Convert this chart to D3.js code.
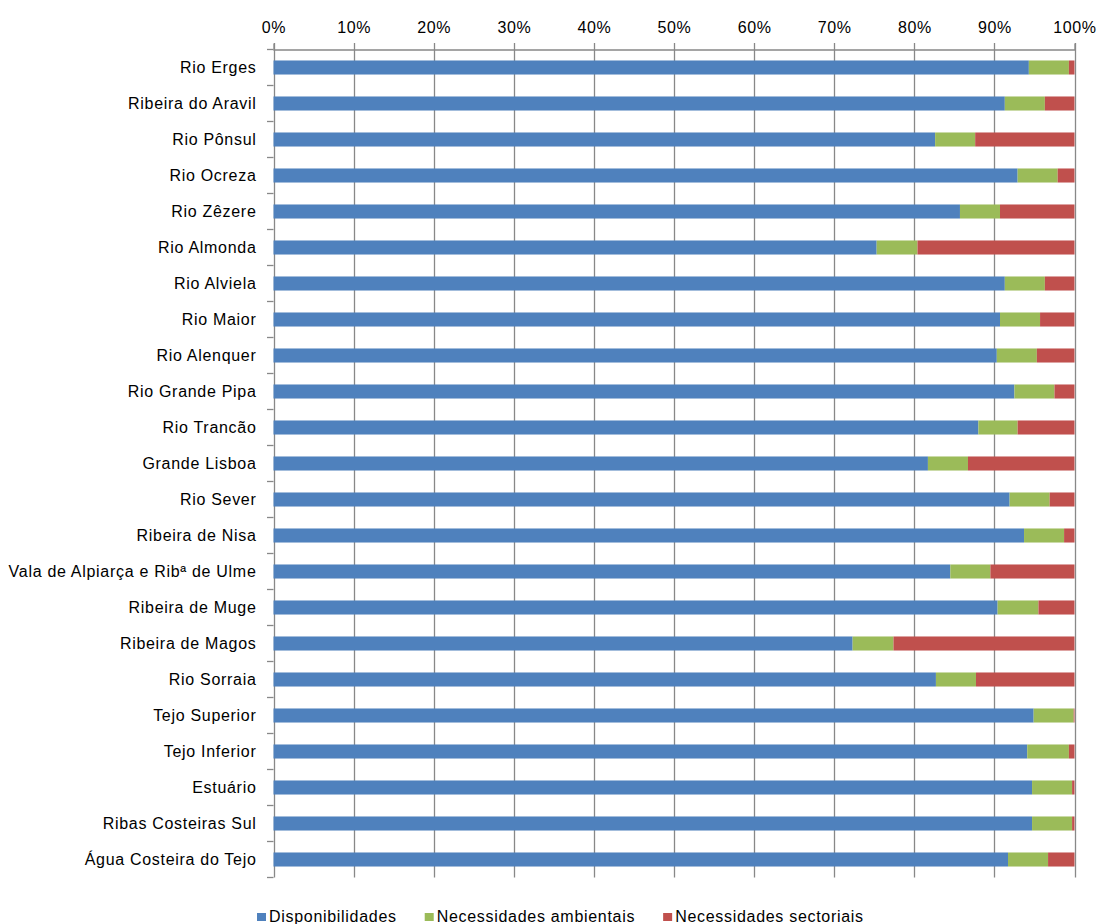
<!DOCTYPE html>
<html>
<head>
<meta charset="utf-8">
<title>Disponibilidades e necessidades</title>
<style>
  body { margin: 0; background: #fff; }
  text { font-family: "Liberation Sans", Arial, sans-serif; fill: #000; }
</style>
</head>
<body>
<script src="https://cdn.jsdelivr.net/npm/d3@7"></script>
<script>
// categorias (de cima para baixo)
const categories = [
  "Rio Erges", "Ribeira do Aravil", "Rio Pônsul", "Rio Ocreza", "Rio Zêzere",
  "Rio Almonda", "Rio Alviela", "Rio Maior", "Rio Alenquer", "Rio Grande Pipa",
  "Rio Trancão", "Grande Lisboa", "Rio Sever", "Ribeira de Nisa",
  "Vala de Alpiarça e Ribª de Ulme", "Ribeira de Muge", "Ribeira de Magos",
  "Rio Sorraia", "Tejo Superior", "Tejo Inferior", "Estuário",
  "Ribas Costeiras Sul", "Água Costeira do Tejo"
];
// percentagens
const disponibilidades = [
  94.3, 91.3, 82.6, 92.9, 85.7, 75.3, 91.3, 90.7, 90.3, 92.5, 88.0, 81.7,
  91.9, 93.7, 84.5, 90.4, 72.3, 82.7, 94.9, 94.1, 94.7, 94.7, 91.7
];
const necAmbientais = [
  5.0, 5.0, 5.0, 5.0, 5.0, 5.1, 5.0, 5.0, 5.0, 5.0, 4.9, 5.0,
  5.0, 5.0, 5.0, 5.1, 5.1, 5.0, 5.0, 5.2, 5.0, 5.0, 5.0
];
const necSectoriais = [
  0.7, 3.7, 12.4, 2.1, 9.3, 19.6, 3.7, 4.3, 4.7, 2.5, 7.1, 13.3,
  3.1, 1.3, 10.5, 4.5, 22.6, 12.3, 0.1, 0.7, 0.3, 0.3, 3.3
];
const seriesNames = ["Disponibilidades", "Necessidades ambientais", "Necessidades sectoriais"];
const colors = ["#4F81BD", "#9BBB59", "#C0504D"];
const tickValues = [0, 0.1, 0.2, 0.3, 0.4, 0.5, 0.6, 0.7, 0.8, 0.9, 1];

const width = 1098, height = 924;
const margin = { top: 49.5, left: 273.5, right: 23.5, bottom: 46.5 };

const rows = categories.map((c, i) => ({
  name: c,
  "Disponibilidades": disponibilidades[i],
  "Necessidades ambientais": necAmbientais[i],
  "Necessidades sectoriais": necSectoriais[i]
}));

// normalizar a 100%
const stack = d3.stack().keys(seriesNames).offset(d3.stackOffsetExpand);
const series = stack(rows);

const x = d3.scaleLinear().domain([0, 1]).range([margin.left, width - margin.right]);
const y = d3.scaleBand().domain(categories)
  .range([margin.top, height - margin.bottom])
  .paddingInner(0.61).paddingOuter(0.305);
const yEdges = d3.scaleLinear().domain([0, categories.length])
  .range([margin.top, height - margin.bottom]);

const svg = d3.select("body").append("svg")
  .attr("width", width)
  .attr("height", height);

// grelha vertical
svg.append("g")
  .attr("stroke", "#888")
  .attr("stroke-width", 1.3)
  .selectAll("line")
  .data(tickValues)
  .join("line")
  .attr("x1", d => Math.round(x(d)) + 0.5)
  .attr("x2", d => Math.round(x(d)) + 0.5)
  .attr("y1", margin.top - 6.5)
  .attr("y2", height - margin.bottom);

// eixo superior
const xAxis = svg.append("g")
  .attr("transform", `translate(0,${margin.top})`)
  .call(d3.axisTop(x).tickValues(tickValues).tickFormat(d3.format(".0%")).tickSize(6).tickPadding(11));
xAxis.select(".domain").attr("stroke", "#888").attr("stroke-width", 1.3);
xAxis.selectAll(".tick line").remove();
xAxis.selectAll("text")
  .attr("font-size", 16)
  .attr("letter-spacing", "0.6px")
  .attr("font-family", "Liberation Sans, Arial, sans-serif")
  .attr("fill", "#000");

// eixo das categorias: marcas entre categorias
svg.append("g")
  .attr("stroke", "#888")
  .attr("stroke-width", 1.3)
  .selectAll("line")
  .data(d3.range(categories.length + 1))
  .join("line")
  .attr("x1", margin.left - 6.5)
  .attr("x2", margin.left)
  .attr("y1", d => yEdges(d))
  .attr("y2", d => yEdges(d));

svg.append("g")
  .selectAll("text")
  .data(categories)
  .join("text")
  .attr("x", margin.left - 17)
  .attr("y", d => y(d) + y.bandwidth() / 2)
  .attr("dy", "0.35em")
  .attr("text-anchor", "end")
  .attr("font-size", 16)
  .attr("letter-spacing", "0.7px")
  .text(d => d);

// barras
svg.append("g")
  .selectAll("g")
  .data(series)
  .join("g")
  .attr("fill", (d, i) => colors[i])
  .selectAll("rect")
  .data(d => d)
  .join("rect")
  .attr("x", d => x(d[0]))
  .attr("y", d => y(d.data.name))
  .attr("width", d => x(d[1]) - x(d[0]))
  .attr("height", y.bandwidth());

// legenda
const legend = svg.append("g").attr("transform", "translate(257,0)");
let lx = 0;
seriesNames.forEach((s, i) => {
  const g = legend.append("g").attr("transform", `translate(${lx},0)`);
  g.append("rect")
    .attr("x", 0).attr("y", 913)
    .attr("width", 9).attr("height", 8)
    .attr("fill", colors[i]);
  const t = g.append("text")
    .attr("x", 12).attr("y", 921.5)
    .attr("font-size", 16)
    .attr("letter-spacing", "0.7px")
    .text(s);
  lx += 12 + t.node().getComputedTextLength() + 28;
});
</script>
</body>
</html>
